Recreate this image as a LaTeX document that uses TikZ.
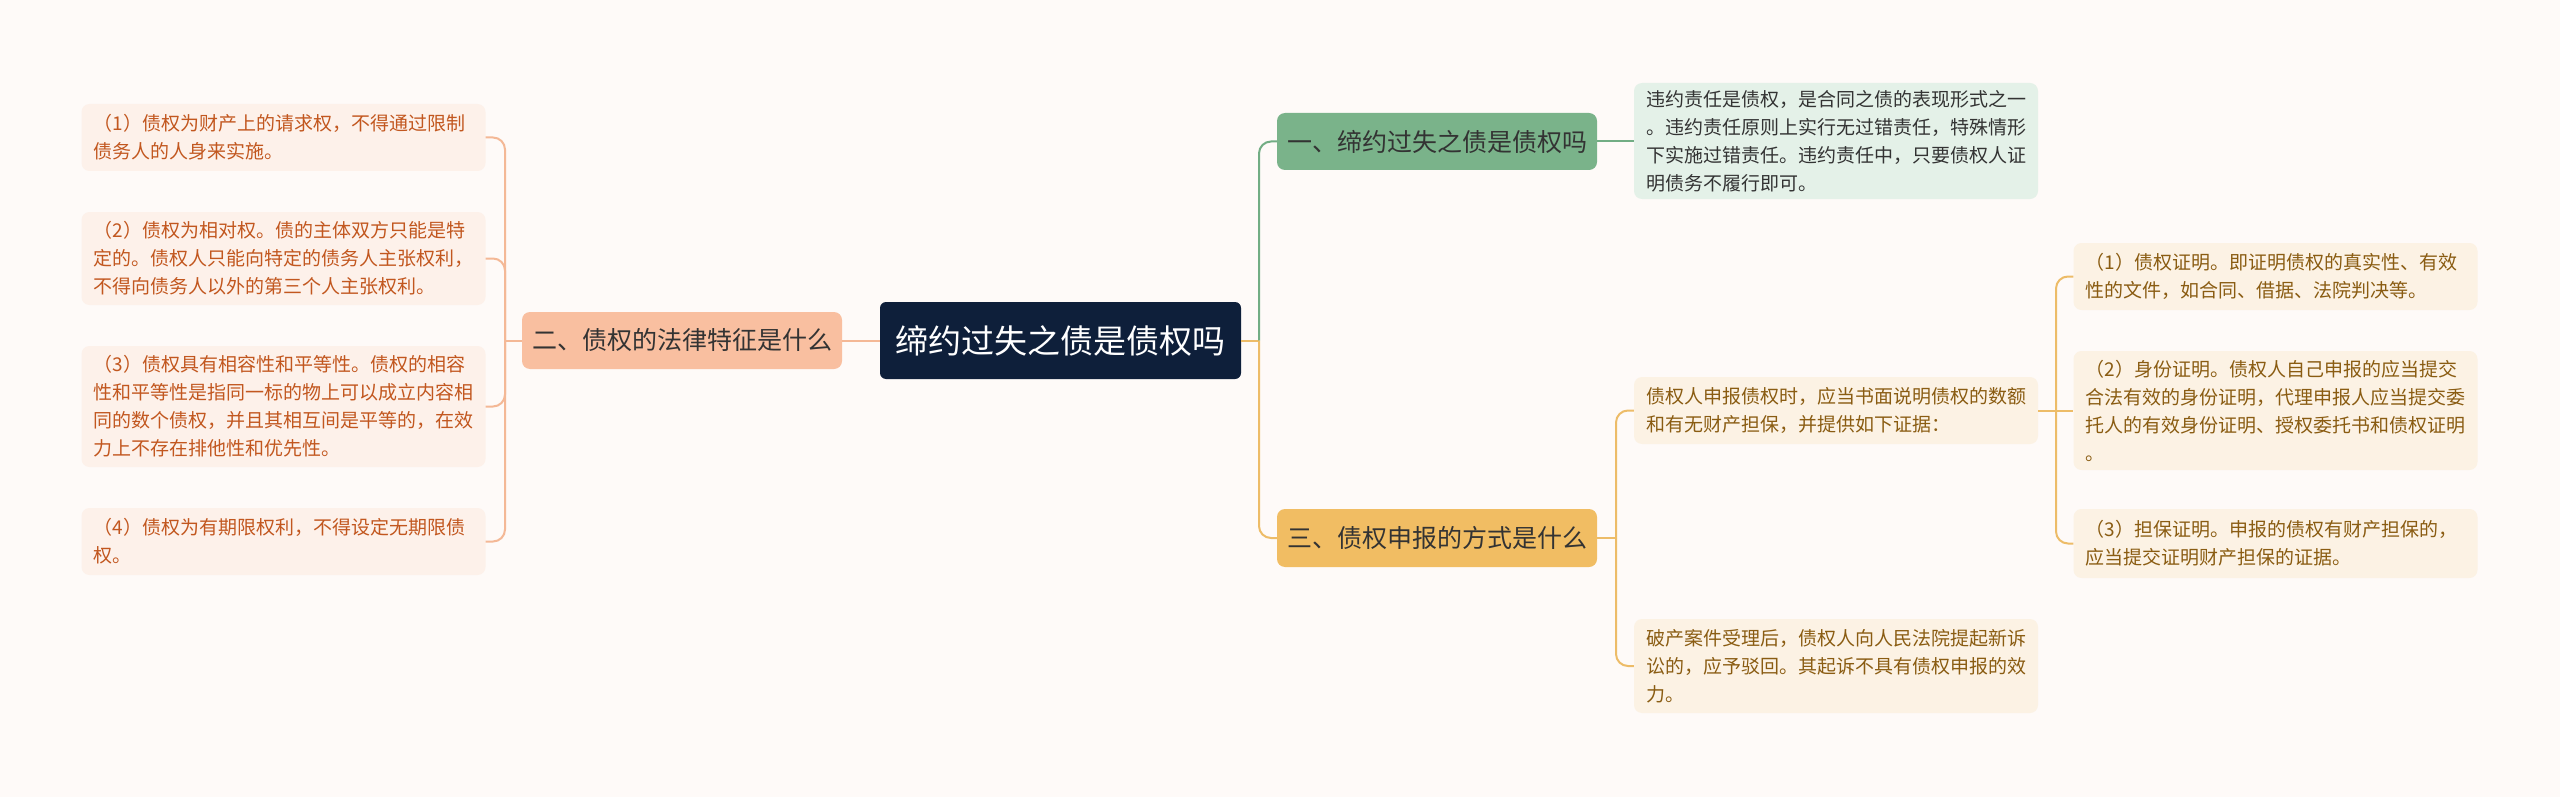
\documentclass[tikz,border=0pt]{standalone}
\usepackage{fontspec}
\setmainfont{Noto Sans CJK SC}
\definecolor{bgc}{HTML}{FEFAF8}
\definecolor{rootc}{HTML}{0E1F3A}
\definecolor{salmc}{HTML}{F9BFA0}
\definecolor{salml}{HTML}{F4B896}
\definecolor{salmleaf}{HTML}{FDF1EA}
\definecolor{salmtext}{HTML}{C2571F}
\definecolor{greenc}{HTML}{7AB38A}
\definecolor{greenl}{HTML}{72AD84}
\definecolor{greenleaf}{HTML}{E4F1E8}
\definecolor{goldc}{HTML}{F1BD63}
\definecolor{goldl}{HTML}{EDBC68}
\definecolor{goldleaf}{HTML}{FCF2E4}
\definecolor{goldtext}{HTML}{8A5C12}
\definecolor{darktext}{HTML}{333333}
\begin{document}
\begin{tikzpicture}[x=1pt,y=-1pt,
  rootbox/.style={fill=rootc,rounded corners=6pt,minimum width=361pt,minimum height=77pt,
    inner sep=0pt,text=white,font=\fontsize{33pt}{38pt}\selectfont},
  topicbox/.style={rounded corners=8pt,minimum width=320pt,minimum height=57pt,
    inner sep=0pt,text=darktext,font=\fontsize{25pt}{30pt}\selectfont},
  leafbox/.style={rounded corners=8pt,text width=380pt,inner xsep=12pt,inner ysep=0pt,
    align=left,font=\fontsize{19pt}{28pt}\selectfont},
  salmleafbox/.style={leafbox,fill=salmleaf,text=salmtext},
  goldleafbox/.style={leafbox,fill=goldleaf,text=goldtext},
  greenleafbox/.style={leafbox,fill=greenleaf,text=darktext},
  conn/.style={line width=2pt,rounded corners=12pt},
]
\useasboundingbox (0,0) rectangle (2560,797);
\fill[bgc] (0,0) rectangle (2560,797);

% nodes
\node[rootbox] (root) at (1060.5,340.5) {缔约过失之债是债权吗};
\node[topicbox,fill=salmc] (l2) at (682,340.5) {二、债权的法律特征是什么};
\node[topicbox,fill=greenc] (r1) at (1437,141.5) {一、缔约过失之债是债权吗};
\node[topicbox,fill=goldc,minimum height=58pt] (r3) at (1437,538) {三、债权申报的方式是什么};

\node[greenleafbox,minimum height=116pt] (g1) at (1836,141) {违约责任是债权，是合同之债的表现形式之一\\。违约责任原则上实行无过错责任，特殊情形\\下实施过错责任。违约责任中，只要债权人证\\明债务不履行即可。};

\node[salmleafbox,minimum height=67pt] (a1) at (283.5,137.5) {（1）债权为财产上的请求权，不得通过限制\\债务人的人身来实施。};
\node[salmleafbox,minimum height=93pt] (a2) at (283.5,258.5) {（2）债权为相对权。债的主体双方只能是特\\定的。债权人只能向特定的债务人主张权利，\\不得向债务人以外的第三个人主张权利。};
\node[salmleafbox,minimum height=121pt] (a3) at (283.5,406.5) {（3）债权具有相容性和平等性。债权的相容\\性和平等性是指同一标的物上可以成立内容相\\同的数个债权，并且其相互间是平等的，在效\\力上不存在排他性和优先性。};
\node[salmleafbox,minimum height=67pt] (a4) at (283.5,541.5) {（4）债权为有期限权利，不得设定无期限债\\权。};

\node[goldleafbox,minimum height=67pt] (y1) at (1836,410.5) {债权人申报债权时，应当书面说明债权的数额\\和有无财产担保，并提供如下证据：};
\node[goldleafbox,minimum height=94pt] (y2) at (1836,666) {破产案件受理后，债权人向人民法院提起新诉\\讼的，应予驳回。其起诉不具有债权申报的效\\力。};

\node[goldleafbox,minimum height=67pt] (s1) at (2275.5,276.5) {（1）债权证明。即证明债权的真实性、有效\\性的文件，如合同、借据、法院判决等。};
\node[goldleafbox,minimum height=119pt] (s2) at (2275.5,410.5) {（2）身份证明。债权人自己申报的应当提交\\合法有效的身份证明，代理申报人应当提交委\\托人的有效身份证明、授权委托书和债权证明\\。};
\node[goldleafbox,minimum height=69pt] (s3) at (2275.5,543.5) {（3）担保证明。申报的债权有财产担保的，\\应当提交证明财产担保的证据。};

% junction coordinates
\coordinate (ls) at (505,340.5);
\coordinate (rs) at (1259,340.5);
\coordinate (gs) at (1616,538);
\coordinate (ys) at (2056,410.5);

% left branch
\draw[conn,salml] (root.west) -- (l2.east);
\draw[conn,salml] (l2.west) -- (ls);
\draw[conn,salml] (ls) |- (a1.east);
\draw[conn,salml] (ls) |- (a2.east);
\draw[conn,salml] (ls) |- (a3.east);
\draw[conn,salml] (ls) |- (a4.east);

% right branches
\draw[conn,goldl] (root.east) -- (rs);
\draw[conn,greenl] (rs) |- (r1.west);
\draw[conn,goldl] (rs) |- (r3.west);
\draw[conn,greenl] (r1.east) -- (g1.west |- r1.east);

\draw[conn,goldl] (r3.east) -- (gs);
\draw[conn,goldl] (gs) |- (y1.west);
\draw[conn,goldl] (gs) |- (y2.west);

\draw[conn,goldl] (y1.east) -- (ys);
\draw[conn,goldl] (ys) |- (s1.west);
\draw[conn,goldl] (ys) -- (s2.west);
\draw[conn,goldl] (ys) |- (s3.west);
\end{tikzpicture}
\end{document}
